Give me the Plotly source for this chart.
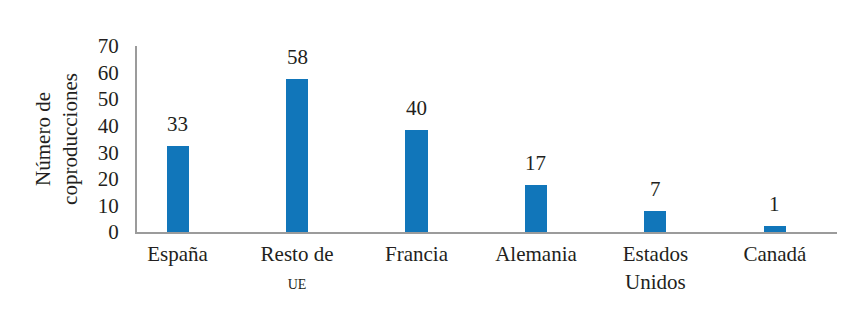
import plotly.graph_objects as go

# Data
categories = ["España", "Resto de UE", "Francia", "Alemania", "Estados Unidos", "Canadá"]
tick_labels = ["España", "Resto de<br><span style='font-size:14px'>UE</span>", "Francia",
               "Alemania", "Estados<br>Unidos", "Canadá"]
bar_values = [32.4, 57.6, 38.4, 17.7, 7.9, 2.3]   # drawn bar heights
value_labels = ["33", "58", "40", "17", "7", "1"]  # printed data labels

FONT = "Liberation Serif"
TEXT_COLOR = "#231F20"
AXIS_COLOR = "#9B9B9B"

fig = go.Figure()
fig.add_trace(go.Bar(
    x=categories,
    y=bar_values,
    marker=dict(color="#1176BA", line=dict(width=0)),
    width=0.185,
    hoverinfo="skip",
))

for c, v, t in zip(categories, bar_values, value_labels):
    fig.add_annotation(
        x=c, y=v, text=t, showarrow=False,
        yanchor="bottom", yshift=8,
        font=dict(family=FONT, size=21, color=TEXT_COLOR),
    )

fig.update_layout(
    width=843, height=321,
    margin=dict(l=129, r=14, t=38, b=97),
    paper_bgcolor="white", plot_bgcolor="white",
    showlegend=False,
    font=dict(family=FONT, size=21, color=TEXT_COLOR),
    bargap=0,
)
fig.update_xaxes(
    type="category",
    range=[-0.34, 5.52],
    tickvals=categories,
    ticktext=tick_labels,
    showgrid=False,
    showline=True, linecolor=AXIS_COLOR, linewidth=2,
    ticks="",
    ticklabelstandoff=2,
    tickfont=dict(family=FONT, size=21, color=TEXT_COLOR),
    zeroline=False,
)
fig.update_yaxes(
    range=[0, 70],
    tickvals=[0, 10, 20, 30, 40, 50, 60, 70],
    showgrid=False,
    showline=True, linecolor=AXIS_COLOR, linewidth=2,
    ticks="",
    ticklabelstandoff=12,
    tickfont=dict(family=FONT, size=21, color=TEXT_COLOR),
    zeroline=False,
    title=dict(text="Número de<br>coproducciones",
               font=dict(family=FONT, size=21, color=TEXT_COLOR),
               standoff=14),
)

fig.write_html("out.html")
